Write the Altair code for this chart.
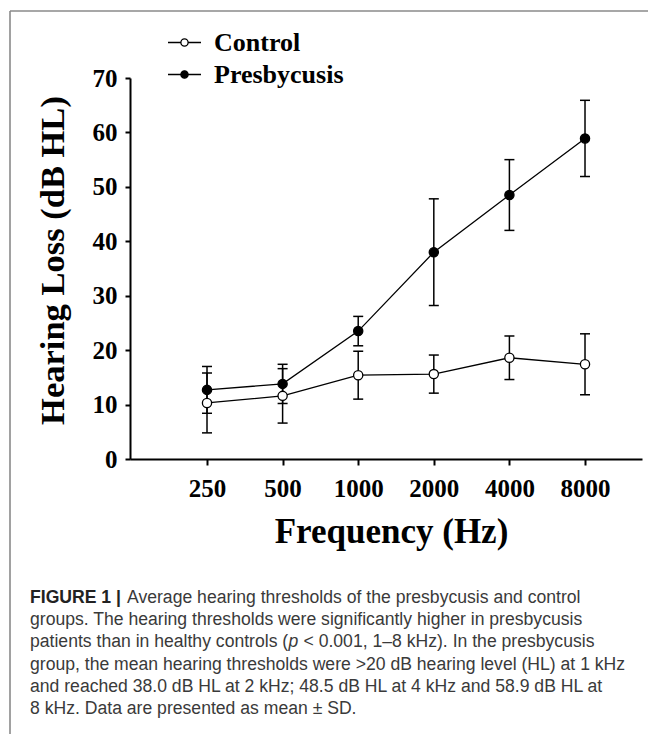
import altair as alt
import pandas as pd

# ---- data ----
freq_hz = [250, 500, 1000, 2000, 4000, 8000]
groups = ["Control", "Presbycusis"]
control_mean = [10.3, 11.6, 15.4, 15.6, 18.6, 17.4]
control_sd = [5.5, 5.0, 4.4, 3.5, 4.0, 5.6]
presby_mean = [12.7, 13.8, 23.5, 38.0, 48.5, 58.9]
presby_sd = [4.3, 3.6, 2.7, 9.8, 6.5, 7.0]

caption_bold = "FIGURE 1 |"
caption_lines = [
    "Average hearing thresholds of the presbycusis and control",
    "groups. The hearing thresholds were significantly higher in presbycusis",
    "patients than in healthy controls (",
    "group, the mean hearing thresholds were >20 dB hearing level (HL) at 1 kHz",
    "and reached 38.0 dB HL at 2 kHz; 48.5 dB HL at 4 kHz and 58.9 dB HL at",
    "8 kHz. Data are presented as mean \u00b1 SD.",
]
caption_italic = "p"
caption_line3_rest = "< 0.001, 1\u20138 kHz). In the presbycusis"

rows = []
for g, means, sds in [(groups[0], control_mean, control_sd), (groups[1], presby_mean, presby_sd)]:
    for f, m, s in zip(freq_hz, means, sds):
        rows.append({"freq": f, "group": g, "mean": m, "lo": m - s, "hi": m + s})
df = pd.DataFrame(rows)

SERIF = "Liberation Serif"
SANS = "Liberation Sans"

xscale = alt.Scale(type="log", base=2, domain=[123.4, 13490], nice=False)
yscale = alt.Scale(domain=[0, 70], nice=False, zero=True)
ytitle = "Hearing Loss (dB HL)"

x_axis = alt.Axis(
    values=freq_hz, format="d", grid=False,
    domainColor="black", domainWidth=2, tickColor="black", tickWidth=2, tickSize=6,
    labelFont=SERIF, labelFontSize=25, labelFontWeight="bold", labelColor="black",
    labelPadding=11, labelFlush=False, labelOverlap=False,
    title="Frequency (Hz)", titleFont=SERIF, titleFontSize=35, titleFontWeight="bold",
    titleColor="black", titleX=261, titleY=83, titleAlign="center", titleBaseline="alphabetic",
)
y_axis = alt.Axis(
    values=[0, 10, 20, 30, 40, 50, 60, 70], grid=False,
    domainColor="black", domainWidth=2, tickColor="black", tickWidth=2, tickSize=5,
    labelFont=SERIF, labelFontSize=25, labelFontWeight="bold", labelColor="black",
    labelPadding=8, labelFlush=False,
    title=ytitle, titleFont=SERIF, titleFontSize=34.5, titleFontWeight="bold", titleColor="black",
    titleAngle=270, titleX=-67, titleY=182, titleAlign="center", titleBaseline="alphabetic",
)

base = alt.Chart(df)

lines = base.mark_line(color="black", strokeWidth=1.3).encode(
    x=alt.X("freq:Q", scale=xscale, axis=x_axis),
    y=alt.Y("mean:Q", scale=yscale, axis=y_axis),
    detail="group:N",
)
bars = base.mark_rule(color="black", strokeWidth=1.5).encode(
    x=alt.X("freq:Q", scale=xscale),
    y=alt.Y("lo:Q", scale=yscale, title=ytitle),
    y2="hi:Q",
    detail="group:N",
)
caps_hi = base.mark_tick(orient="horizontal", color="black", size=10, thickness=1.5, opacity=1).encode(
    x=alt.X("freq:Q", scale=xscale),
    y=alt.Y("hi:Q", scale=yscale, title=ytitle),
)
caps_lo = base.mark_tick(orient="horizontal", color="black", size=10, thickness=1.5, opacity=1).encode(
    x=alt.X("freq:Q", scale=xscale),
    y=alt.Y("lo:Q", scale=yscale, title=ytitle),
)

legend_path = "M-1,0H-0.22M0.22,0H1M-0.22,0A0.22,0.22,0,1,0,0.22,0A0.22,0.22,0,1,0,-0.22,0Z"
points = base.mark_point(filled=True, stroke="black", strokeWidth=1.3, size=85, opacity=1, shape="circle").encode(
    x=alt.X("freq:Q", scale=xscale),
    y=alt.Y("mean:Q", scale=yscale, title=ytitle),
    fill=alt.Fill(
        "group:N",
        scale=alt.Scale(domain=groups, range=["white", "black"]),
        legend=alt.Legend(
            orient="none", legendX=37, legendY=-53, title=None, padding=0,
            symbolType=legend_path, symbolSize=1089, symbolStrokeColor="black",
            symbolStrokeWidth=1.3, symbolOpacity=1,
            labelFont=SERIF, labelFontSize=26, labelFontWeight="bold", labelColor="black",
            labelOffset=12, rowPadding=1, direction="vertical",
        ),
    ),
)

one = pd.DataFrame({"k": [0]})
frame_v = alt.Chart(one).mark_rule(color="#8a8a8a", strokeWidth=1.6).encode(
    x=alt.value(-120), y=alt.value(-67), y2=alt.value(656)
)
frame_h = alt.Chart(one).mark_rule(color="#8a8a8a", strokeWidth=1.6).encode(
    x=alt.value(-120), x2=alt.value(518), y=alt.value(-67)
)

FS = 17.6
cap_x = -100
cap_y0 = 525
cap_dy = 22.2
cap_layers = [
    alt.Chart(pd.DataFrame({"t": [caption_bold]})).mark_text(
        align="left", baseline="alphabetic", font=SANS, fontSize=FS, fontWeight="bold", color="#222"
    ).encode(x=alt.value(cap_x), y=alt.value(cap_y0), text="t:N")
]
for i, line in enumerate(caption_lines):
    xx = cap_x + 97 if i == 0 else cap_x
    cap_layers.append(
        alt.Chart(pd.DataFrame({"t": [line]})).mark_text(
            align="left", baseline="alphabetic", font=SANS, fontSize=FS, color="#3a3a3a"
        ).encode(x=alt.value(xx), y=alt.value(cap_y0 + i * cap_dy), text="t:N")
    )
# italic "p" and the rest of line 3
cap_layers.append(
    alt.Chart(pd.DataFrame({"t": [caption_italic]})).mark_text(
        align="left", baseline="alphabetic", font=SANS, fontSize=FS, fontStyle="italic", color="#3a3a3a"
    ).encode(x=alt.value(cap_x + 258.5), y=alt.value(cap_y0 + 2 * cap_dy), text="t:N")
)
cap_layers.append(
    alt.Chart(pd.DataFrame({"t": [caption_line3_rest]})).mark_text(
        align="left", baseline="alphabetic", font=SANS, fontSize=FS, color="#3a3a3a"
    ).encode(x=alt.value(cap_x + 273.5), y=alt.value(cap_y0 + 2 * cap_dy), text="t:N")
)

chart = alt.layer(
    frame_v, frame_h, lines, bars, caps_hi, caps_lo, points, *cap_layers
).properties(
    width=512, height=381,
    padding={"left": 122, "top": 70, "right": 6, "bottom": 275},
    autosize=alt.AutoSizeParams(type="none"),
    background="white",
).configure_view(stroke=None)

chart.save("out.html", embed_options={"renderer": "svg", "actions": False})
